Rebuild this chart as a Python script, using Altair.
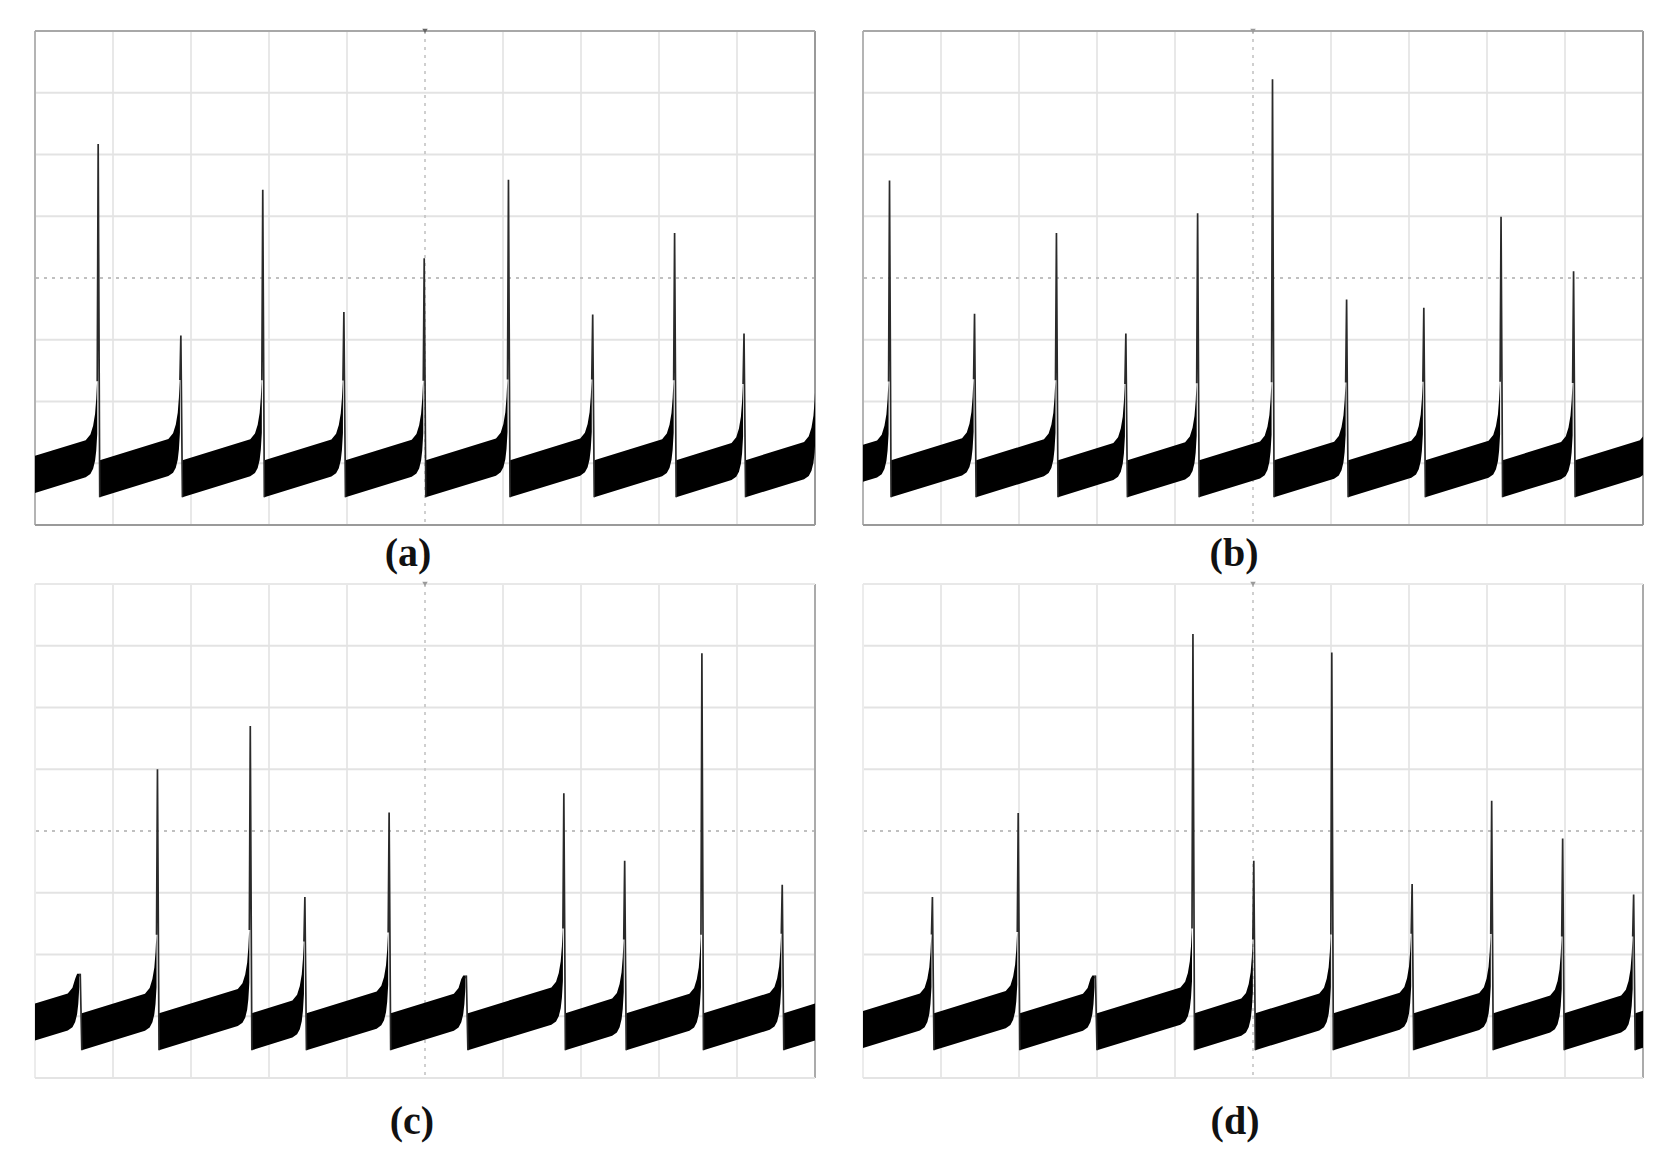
import altair as alt
import pandas as pd

X_DIVS = 10
Y_DIVS = 8
PANEL_W = 780
PANEL_H = 494

# ---- values (in screen divisions) ----
LABELS = ["(a)", "(b)", "(c)", "(d)"]

A_SPIKE_X = [0.81, 1.87, 2.92, 3.96, 4.99, 6.07, 7.15, 8.20, 9.09]
A_PEAK = [6.17, 3.07, 5.43, 3.45, 4.32, 5.59, 3.41, 4.73, 3.10]
A_PREV_NEXT = [-0.20, 10.02]

B_SPIKE_X = [0.34, 1.43, 2.48, 3.37, 4.29, 5.25, 6.20, 7.19, 8.18, 9.11]
B_PEAK = [5.58, 3.42, 4.73, 3.10, 5.05, 7.22, 3.65, 3.52, 4.99, 4.11]
B_PREV_NEXT = [-0.66, 10.12]

C_SPIKE_X = [0.58, 1.57, 2.76, 3.46, 4.54, 5.53, 6.78, 7.56, 8.55, 9.58]
C_PEAK = [1.69, 5.00, 5.70, 2.93, 4.30, 1.66, 4.61, 3.52, 6.88, 3.13]
C_PREV_NEXT = [-0.42, 10.60]

D_SPIKE_X = [0.89, 1.99, 2.98, 4.23, 5.01, 6.01, 7.04, 8.06, 8.97, 9.88]
D_PEAK = [2.93, 4.29, 1.66, 7.19, 3.52, 6.89, 3.14, 4.49, 3.88, 2.97]
D_PREV_NEXT = [-0.11, 10.90]

# ramp (noise band) profile
RAMP_LO = 0.45          # band bottom right after the drop
RAMP_HI = 1.05          # band top right after the drop
RAMP_SLOPE = 0.38       # rise of the band per division
DROP_DX = 0.02
KNEE_U = [0.16, 0.10, 0.065, 0.04, 0.025, 0.012]   # distance before spike
KNEE_LO = [0.00, 0.03, 0.10, 0.22, 0.38, 0.65]
KNEE_HI = [0.00, 0.07, 0.20, 0.38, 0.62, 0.95]

V_GRID = [1, 2, 3, 4, 6, 7, 8, 9]
H_GRID = [1, 2, 3, 5, 6, 7]
V_CENTER = [5]
H_CENTER = [4]

# border colours: left, right, bottom, top
BORDERS = [
    ["#b4b4b4", "#9a9a9a", "#9a9a9a", "#a8a8a8"],
    ["#b4b4b4", "#9a9a9a", "#9a9a9a", "#a8a8a8"],
    ["#ececec", "#ababab", "#e4e4e4", "#e8e8e8"],
    ["#ececec", "#ababab", "#e4e4e4", "#e8e8e8"],
]
LABEL_DX = [-17, -19, -13, -18]
LABEL_DY = [29, 29, 44, 44]
MARKER_COLORS = ["#666666", "#9a9a9a", "#9a9a9a", "#9a9a9a"]


def build_panel(spike_x, peaks, prev_next, label, borders, label_dx, label_dy, mcolor):
    xs = alt.Scale(domain=[0, X_DIVS], nice=False, zero=False)
    ys = alt.Scale(domain=[0, Y_DIVS], nice=False, zero=False)
    bounds = [prev_next[0]] + list(spike_x) + [prev_next[1]]
    peaks_all = [None] + list(peaks) + [Y_DIVS]
    band_rows, spike_rows = [], []
    for k in range(len(bounds) - 1):
        b0, b1 = bounds[k], bounds[k + 1]
        pk = peaks_all[k + 1]
        x0 = b0 + DROP_DX
        band_rows.append(dict(seg=k, x=x0, lo=RAMP_LO, hi=RAMP_HI))
        for u, dlo, dhi in zip(KNEE_U, KNEE_LO, KNEE_HI):
            x = b1 - u
            if x <= x0:
                continue
            lo = RAMP_LO + RAMP_SLOPE * (x - b0) + dlo
            hi = RAMP_HI + RAMP_SLOPE * (x - b0) + dhi
            hi = min(hi, pk)
            lo = min(lo, hi - 0.06)
            band_rows.append(dict(seg=k, x=x, lo=lo, hi=hi))
        if k < len(spike_x):
            last = band_rows[-1]
            spike_rows += [
                dict(spk=k, o=0, x=last["x"], y=last["hi"] - 0.05),
                dict(spk=k, o=1, x=b1, y=pk),
                dict(spk=k, o=2, x=b1 + DROP_DX, y=RAMP_LO),
            ]
    band_df = pd.DataFrame(band_rows)
    spike_df = pd.DataFrame(spike_rows)

    X = lambda f: alt.X(f, scale=xs, axis=None)
    Y = lambda f: alt.Y(f, scale=ys, axis=None)

    vgrid = alt.Chart(pd.DataFrame({"gx": V_GRID})).mark_rule(
        color="#e0e0e0", strokeWidth=1.5).encode(x=X("gx:Q"))
    hgrid = alt.Chart(pd.DataFrame({"gy": H_GRID})).mark_rule(
        color="#e3e3e3", strokeWidth=2.2).encode(y=Y("gy:Q"))
    vcen = alt.Chart(pd.DataFrame({"gx": V_CENTER})).mark_rule(
        color="#c0c0c0", strokeWidth=1.5, strokeDash=[3, 5]).encode(x=X("gx:Q"))
    hcen = alt.Chart(pd.DataFrame({"gy": H_CENTER})).mark_rule(
        color="#c0c0c0", strokeWidth=1.8, strokeDash=[3, 5]).encode(y=Y("gy:Q"))

    b_left = alt.Chart(pd.DataFrame({"gx": [0]})).mark_rule(
        color=borders[0], strokeWidth=2).encode(x=X("gx:Q"))
    b_right = alt.Chart(pd.DataFrame({"gx": [X_DIVS]})).mark_rule(
        color=borders[1], strokeWidth=2).encode(x=X("gx:Q"))
    b_bottom = alt.Chart(pd.DataFrame({"gy": [0]})).mark_rule(
        color=borders[2], strokeWidth=2).encode(y=Y("gy:Q"))
    b_top = alt.Chart(pd.DataFrame({"gy": [Y_DIVS]})).mark_rule(
        color=borders[3], strokeWidth=2).encode(y=Y("gy:Q"))

    marker = alt.Chart(pd.DataFrame({"mx": [X_DIVS / 2], "my": [Y_DIVS]})).mark_point(
        shape="triangle-down", filled=True, size=30, color=mcolor, opacity=1).encode(
        x=X("mx:Q"), y=Y("my:Q"))

    band = alt.Chart(band_df).mark_area(color="#000000", clip=True, opacity=1).encode(
        x=X("x:Q"), y=Y("lo:Q"), y2="hi:Q", detail="seg:N")
    spikes = alt.Chart(spike_df).mark_line(
        color="#2a2a2a", strokeWidth=1.7, clip=True).encode(
        x=X("x:Q"), y=Y("y:Q"), detail="spk:N", order="o:Q")
    text = alt.Chart(pd.DataFrame({"label": [label]})).mark_text(
        font="Liberation Serif", fontSize=40, fontWeight="bold", color="#111111",
        align="center", baseline="middle").encode(
        text="label:N",
        x=alt.value(PANEL_W / 2 + label_dx),
        y=alt.value(PANEL_H + label_dy),
    )
    return alt.layer(vgrid, hgrid, vcen, hcen, b_left, b_right, b_bottom, b_top,
                     band, spikes, marker, text).properties(width=PANEL_W, height=PANEL_H)


SPIKES = [A_SPIKE_X, B_SPIKE_X, C_SPIKE_X, D_SPIKE_X]
PEAKS = [A_PEAK, B_PEAK, C_PEAK, D_PEAK]
ENDS = [A_PREV_NEXT, B_PREV_NEXT, C_PREV_NEXT, D_PREV_NEXT]

panels = [build_panel(SPIKES[i], PEAKS[i], ENDS[i], LABELS[i], BORDERS[i],
                      LABEL_DX[i], LABEL_DY[i], MARKER_COLORS[i]) for i in range(4)]

chart = alt.concat(*panels, columns=2, spacing={"row": 59, "column": 48},
                   bounds="flush").properties(
    padding={"left": 25, "top": 20, "right": 10, "bottom": 10},
    background="white",
).configure_view(stroke=None)

chart.save("out.html", embed_options={"renderer": "svg", "actions": False})
